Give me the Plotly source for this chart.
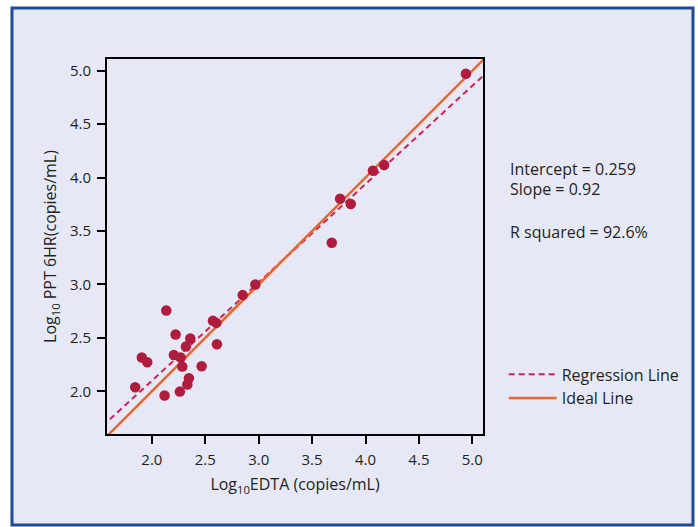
import plotly.graph_objects as go

edta = [2.135, 2.222, 2.360, 2.319, 1.906, 1.957, 2.206, 2.269, 2.285, 2.466,
        2.347, 2.332, 1.844, 2.119, 2.262, 2.609, 2.572, 2.604, 2.850, 2.969,
        3.684, 3.762, 3.862, 4.069, 4.174, 4.940]
ppt = [2.756, 2.531, 2.494, 2.419, 2.316, 2.272, 2.340, 2.316, 2.231, 2.234,
       2.122, 2.063, 2.037, 1.960, 1.997, 2.440, 2.659, 2.640, 2.900, 3.000,
       3.390, 3.802, 3.753, 4.065, 4.118, 4.972]
intercept = 0.259
slope = 0.92
r_squared = 92.6
line_x = [1.4, 5.3]
tick_vals = [2.0, 2.5, 3.0, 3.5, 4.0, 4.5, 5.0]
tick_text = ["2.0", "2.5", "3.0", "3.5", "4.0", "4.5", "5.0"]

FONT = "'Open Sans', sans-serif"
BG = "#e6e9f5"
TXT = "#231f20"

fig = go.Figure()
fig.add_trace(go.Scatter(x=line_x, y=[intercept + slope * v for v in line_x], mode="lines",
                         line=dict(color="#d3224f", width=2, dash="6px,4px"),
                         name="Regression Line"))
fig.add_trace(go.Scatter(x=line_x, y=line_x, mode="lines",
                         line=dict(color="#f26522", width=2.5), name="Ideal Line"))
fig.add_trace(go.Scatter(x=edta, y=ppt, mode="markers",
                         marker=dict(color="#b01c3e", size=10.5, line=dict(width=0)),
                         showlegend=False))

axis_common = dict(showline=True, linecolor="black", linewidth=2, mirror=True,
                   ticks="outside", ticklen=8, tickwidth=2, tickcolor="black",
                   showgrid=False, zeroline=False, tickvals=tick_vals, ticktext=tick_text,
                   tickfont=dict(size=15, color=TXT, family=FONT))

fig.update_layout(
    width=698, height=527,
    margin=dict(l=107, r=215, t=59, b=93),
    paper_bgcolor="white", plot_bgcolor=BG,
    font=dict(family=FONT, color=TXT),
    xaxis=dict(range=[1.58, 5.10], ticklabelstandoff=3,
               title=dict(text="Log<sub>10</sub>EDTA (copies/mL)",
                          font=dict(size=16), standoff=11), **axis_common),
    yaxis=dict(range=[1.60, 5.11], ticklabelstandoff=3,
               title=dict(text="Log<sub>10</sub> PPT 6HR(copies/mL)",
                          font=dict(size=16), standoff=9), **axis_common),
    legend=dict(x=1.055, y=0.127, xanchor="left", yanchor="middle", bgcolor="rgba(0,0,0,0)",
                font=dict(size=16, color=TXT), tracegroupgap=0, itemwidth=48),
    shapes=[dict(type="rect", xref="paper", yref="paper", x0=-0.2527, x1=1.5585,
                 y0=-0.2427, y1=1.136, line=dict(color="#1d4b9a", width=3),
                 fillcolor=BG, layer="below")],
    annotations=[
        dict(xref="paper", yref="paper", x=1.066, y=yv, xanchor="left", yanchor="middle",
             showarrow=False, align="left", font=dict(size=16, color=TXT), text=t)
        for t, yv in [(f"Intercept = {intercept}", 0.7067),
                      (f"Slope = {slope}", 0.6533),
                      (f"R squared = {r_squared}%", 0.5387)]
    ],
)

fig.write_html("out.html")
